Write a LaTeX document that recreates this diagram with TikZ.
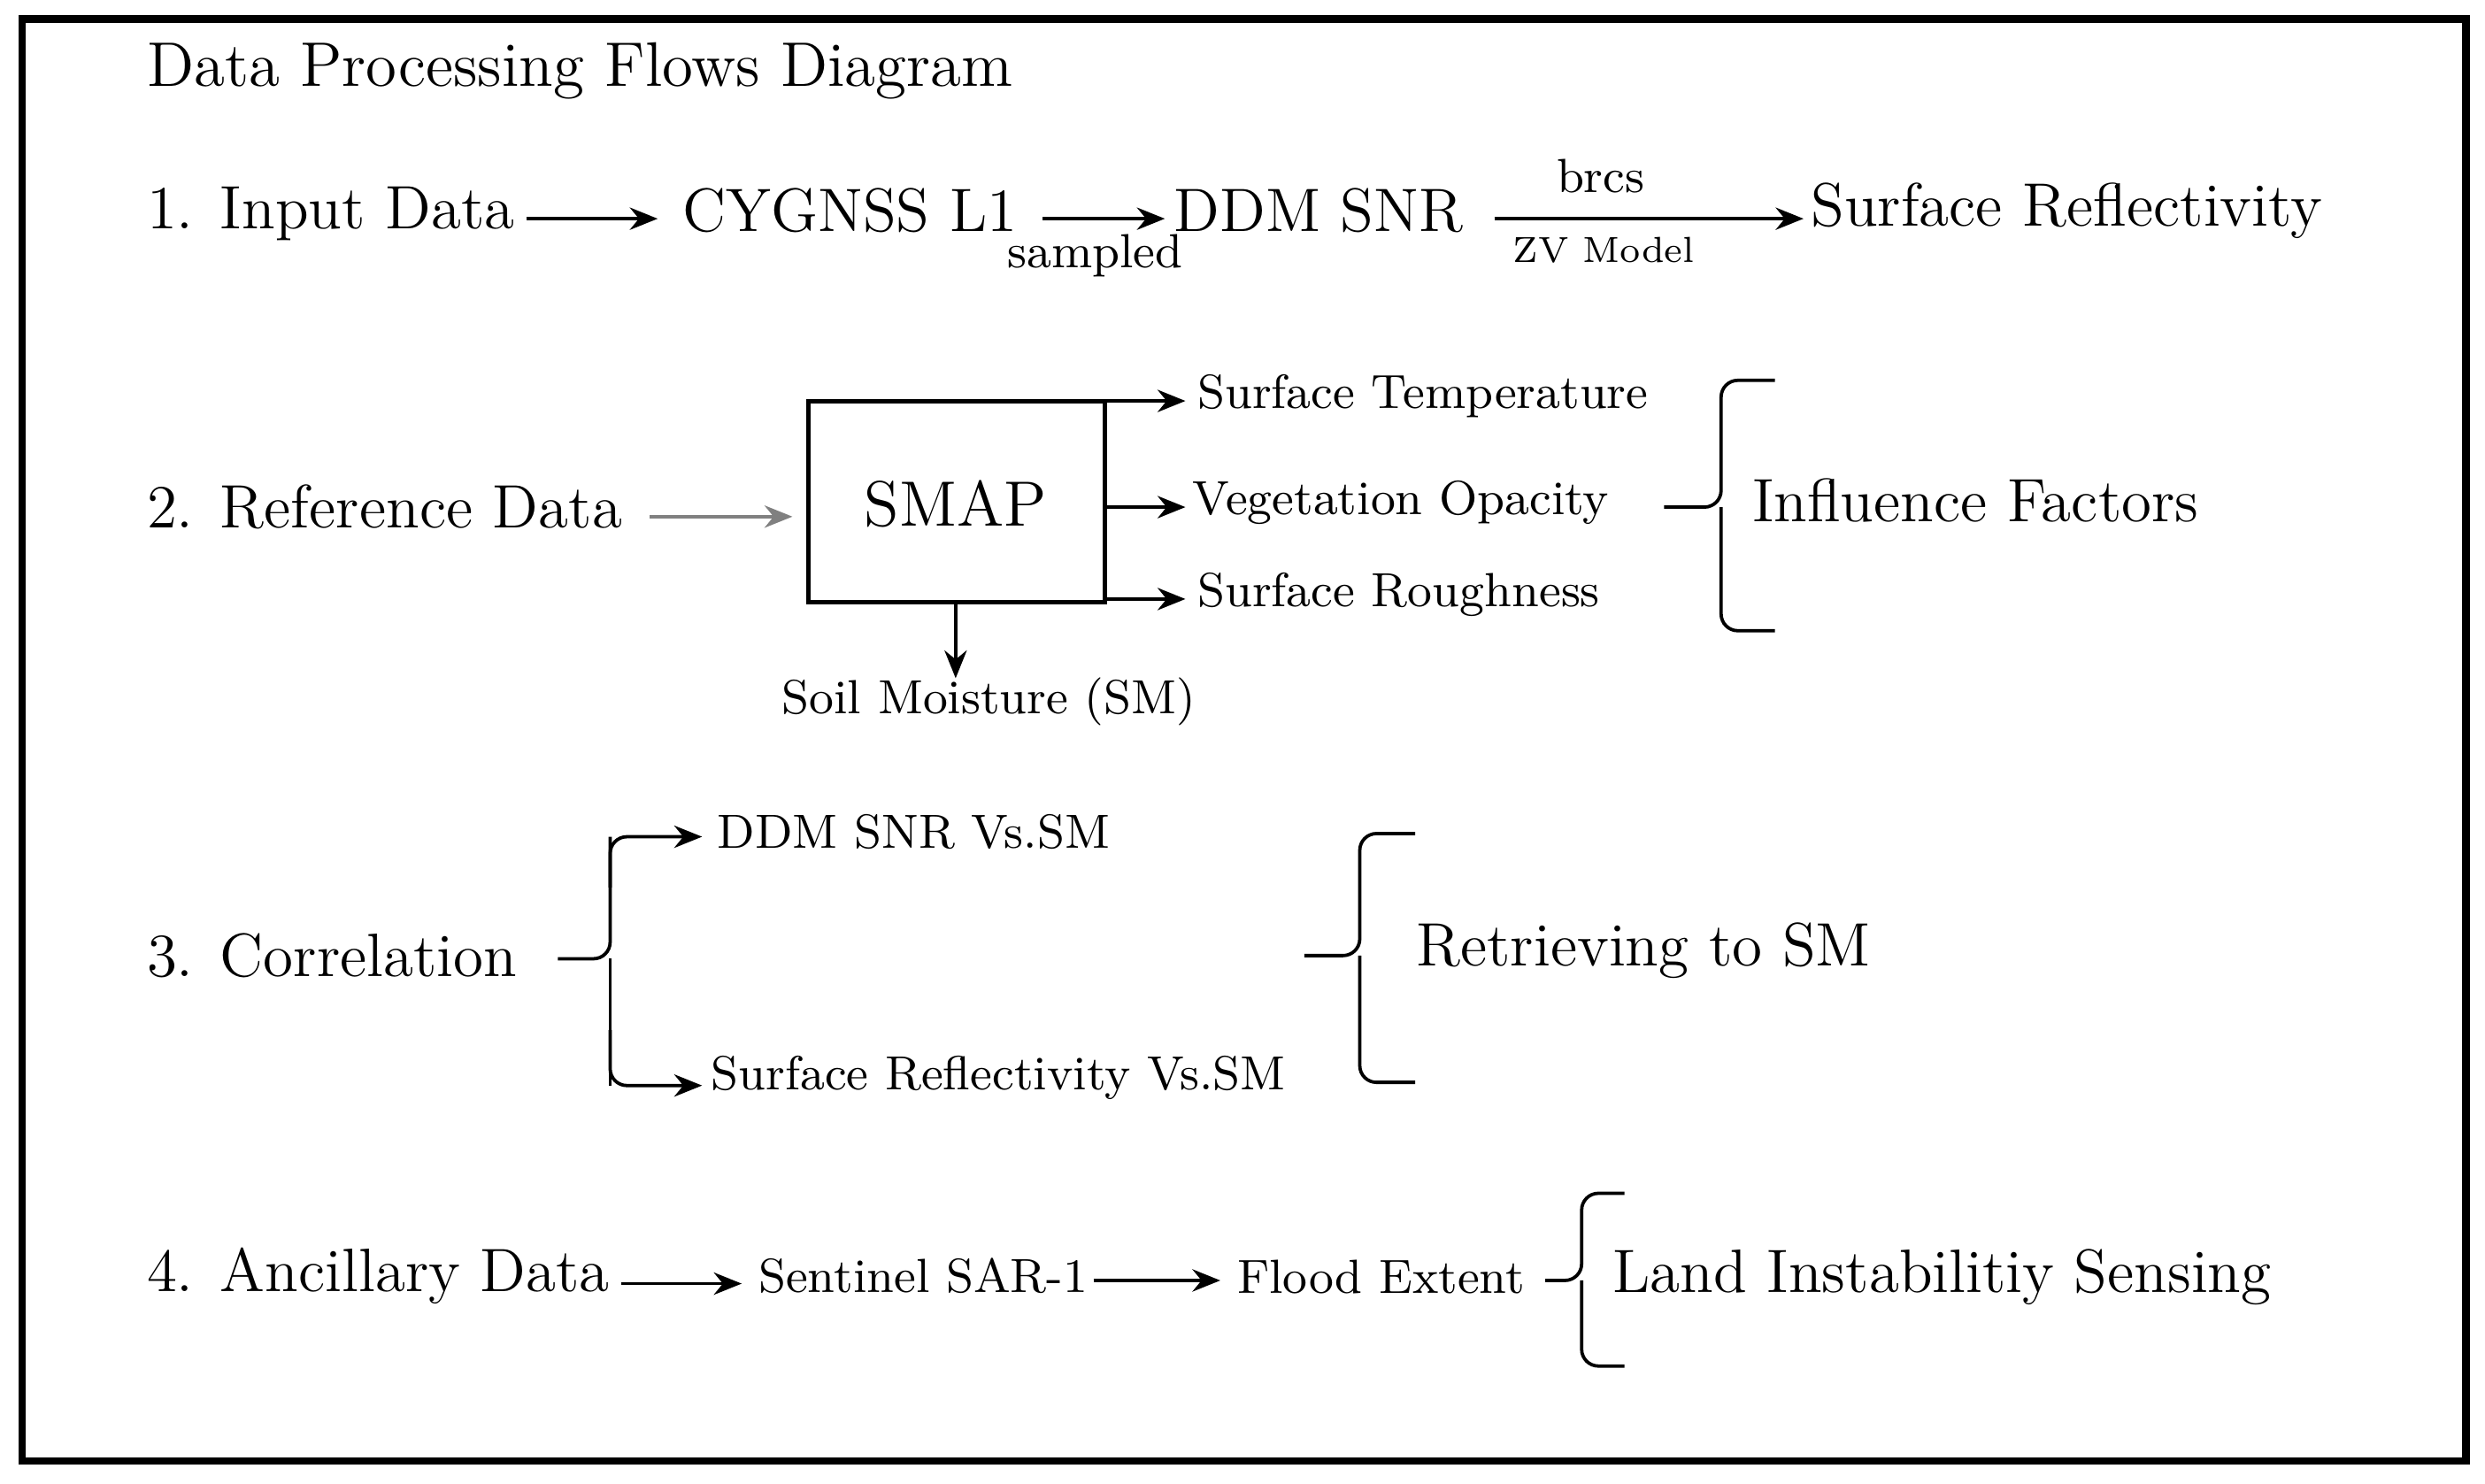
\documentclass[tikz,border=0pt]{standalone}
\usetikzlibrary{arrows.meta}
\begin{document}
\begin{tikzpicture}[x=0.01cm,y=-0.01cm,
  big/.style={anchor=west,inner sep=0pt,font=\fontsize{11}{13}\selectfont},
  mid/.style={anchor=west,inner sep=0pt,font=\fontsize{11.3}{13}\selectfont},
  sm/.style={anchor=west,inner sep=0pt,font=\fontsize{8.6}{10}\selectfont},
  tiny/.style={inner sep=0pt,font=\fontsize{6.5}{8}\selectfont},
  arr/.style={-{Stealth[length=5pt,width=4pt]},line width=0.6pt},
  br/.style={line width=0.6pt,rounded corners=3pt}]
\useasboundingbox (0,0) rectangle (1568,936);
\draw[line width=1.3pt] (14,12) rectangle (1556,922);
\node[mid] (title) at (92,45) {Data Processing Flows Diagram};
% row 1
\node[big] (in) at (92,135) {1. Input Data};
\node[big] (cyg) at (430,133) {CYGNSS L1};
\node[big] (ddm) at (740,133) {DDM SNR};
\node[big] (sr) at (1142,133) {Surface Reflectivity};
\draw[arr] (332,138) coordinate (a1) -- (415,138) coordinate (a2);
\draw[arr] (658,138) coordinate (b1) -- (735,138) coordinate (b2);
\node[sm,anchor=north] (samp) at (691,147) {sampled};
\draw[arr] (943,138) coordinate (c1) -- (1138,138) coordinate (c2);
\node[sm,anchor=center] (brcs) at (1010,111) {brcs};
\node[tiny] (zv) at (1012,158) {ZV Model};
% row 2
\node[big] (ref) at (92,320) {2. Reference Data};
\draw[arr,gray] (410,326) coordinate (d1) -- (500,326) coordinate (d2);
\draw[line width=0.8pt] (510,253) coordinate (bx1) rectangle (697,380) coordinate (bx2);
\node[font=\fontsize{11.5}{13}\selectfont] (smapt) at (603,318) {SMAP};
\coordinate (s1) at (697,253); \coordinate (s2) at (697,320); \coordinate (s3) at (697,378);
\draw[arr] (s1) -- (748,253);
\draw[arr] (s2) -- (748,320);
\draw[arr] (s3) -- (748,378);
\node[sm] (st) at (755,250) {Surface Temperature};
\node[sm] (vo) at (752,317) {Vegetation Opacity};
\node[sm] (ro) at (755,375) {Surface Roughness};
\draw[arr] (603,380) coordinate (e1) -- (603,428) coordinate (e2);
\node[sm,anchor=center] (soil) at (624,443) {Soil Moisture (SM)};
\draw[br] (1120,240) -- (1086,240) -- (1086,320) -- (1050,320);
\draw[br] (1120,398) -- (1086,398) -- (1086,320);
\node[big] (inf) at (1105,316) {Influence Factors};
% row 3
\node[big] (cor) at (92,603) {3. Correlation};
\draw[br] (352,605) -- (385,605) -- (385,528);
\draw[br] (385,605) -- (385,685);
\draw[arr,rounded corners=3pt] (385,560) -- (385,528) -- (443,528);
\draw[arr,rounded corners=3pt] (385,650) -- (385,685) -- (443,685);
\node[sm] (dv) at (452,525) {DDM SNR Vs.SM};
\node[sm] (rv) at (448,680) {Surface Reflectivity Vs.SM};
\draw[br] (893,526) -- (858,526) -- (858,603) -- (823,603);
\draw[br] (893,683) -- (858,683) -- (858,603);
\node[big] (ret) at (893,600) {Retrieving to SM};
% row 4
\node[big] (anc) at (92,805) {4. Ancillary Data};
\node[sm] (sen) at (478,805) {Sentinel SAR-1};
\node[sm] (fl) at (780,806) {Flood Extent};
\draw[arr] (392,810) coordinate (f1) -- (468,810) coordinate (f2);
\draw[arr] (690,808) coordinate (g1) -- (770,808) coordinate (g2);
\draw[br] (1025,753) -- (998,753) -- (998,808) -- (975,808);
\draw[br] (1025,862) -- (998,862) -- (998,808);
\node[big] (land) at (1017,806) {Land Instabilitiy Sensing};
\end{tikzpicture}
\end{document}
